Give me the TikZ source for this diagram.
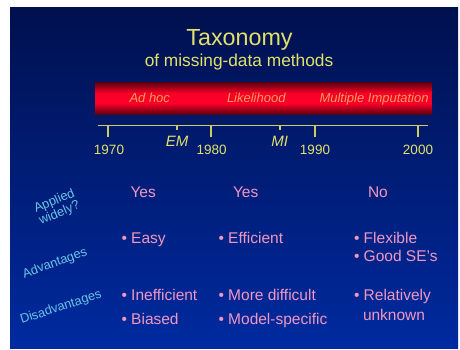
\documentclass[tikz,border=0pt]{standalone}
\usepackage{fontspec}
\setmainfont{Liberation Sans}
\definecolor{bgtop}{RGB}{0,16,78}
\definecolor{bgbot}{RGB}{0,42,160}
\definecolor{titley}{RGB}{225,225,105}
\definecolor{liney}{RGB}{205,205,95}
\definecolor{pinktxt}{RGB}{240,152,192}
\definecolor{cyantxt}{RGB}{105,195,230}
\definecolor{bartxt}{RGB}{245,160,90}
\definecolor{bardark}{RGB}{95,0,15}
\definecolor{barred}{RGB}{250,0,40}
\begin{document}
\begin{tikzpicture}[x=1pt,y=-1pt,
  every node/.style={inner sep=0pt,outer sep=0pt},
  ttl/.style={text=titley,anchor=base},
  bartext/.style={text=bartxt,anchor=base west,font=\fontsize{13}{15}\selectfont\itshape},
  tickline/.style={draw=liney,line width=1.2pt},
  year/.style={text=titley,anchor=base,font=\fontsize{13.5}{15}\selectfont},
  event/.style={text=titley,anchor=base,font=\fontsize{15}{17}\selectfont\itshape},
  item/.style={text=pinktxt,anchor=base west,font=\fontsize{15.5}{18}\selectfont},
  rowlab/.style={text=cyantxt,align=center,font=\fontsize{12.8}{15}\selectfont}]
\useasboundingbox (0,0) rectangle (460,349);
\fill[white] (0,0) rectangle (460,349);
\shade[top color=bgtop,bottom color=bgbot] (10,7) rectangle (458,348);
% title
\node[ttl,font=\fontsize{23.3}{26}\selectfont] (title) at (239.5,45) {Taxonomy};
\node[ttl,font=\fontsize{17.3}{20}\selectfont] (subtitle) at (239,66) {of missing-data methods};
% red bar
\shade[top color=bardark,bottom color=barred] (95,82.5) rectangle (432,93.2);
\fill[barred] (95,93) rectangle (432,103.5);
\shade[top color=barred,bottom color=bardark] (95,103.3) rectangle (432,114);
\node[bartext] (adhoc) at (129.5,102.3) {Ad hoc};
\node[bartext] (lik) at (227,102.3) {Likelihood};
\node[bartext] (mi) at (319.5,102.3) {Multiple Imputation};
% timeline
\coordinate (tl) at (98,125.7);
\coordinate (tr) at (428,125.7);
\draw[tickline] (tl) -- (tr);
\coordinate (t70) at (108,125.7);
\coordinate (t80) at (211,125.7);
\coordinate (t90) at (315,125.7);
\coordinate (t00) at (418,125.7);
\coordinate (tem) at (177,125.7);
\coordinate (tmi) at (280,125.7);
\foreach \c in {t70,t80,t90,t00}{\draw[tickline] (\c) -- ++(0,11.3);}
\foreach \c in {tem,tmi}{\draw[tickline] (\c) -- ++(0,3.8);}
\node[year] (y70) at (109,154) {1970};
\node[year] (y80) at (211.7,154) {1980};
\node[year] (y90) at (315,154) {1990};
\node[year] (y00) at (418,154) {2000};
\node[event] (em) at (177,146.7) {EM};
\node[event] (mievt) at (279.7,146.7) {MI};
% row labels
\node[rowlab,rotate=23] (applied) at (57,207.5) {Applied\\[-2pt]widely?};
\node[rowlab,rotate=20] (adv) at (55,263.5) {Advantages};
\node[rowlab,rotate=18] (disadv) at (61,307.5) {Disadvantages};
% row 1
\node[item] (yes1) at (130.5,197) {Yes};
\node[item] (yes2) at (233,197) {Yes};
\node[item] (no3) at (368,197) {No};
% row 2
\node[item] (easy) at (121.5,243.3) {• Easy};
\node[item] (eff) at (218.5,243.3) {• Efficient};
\node[item] (flex) at (354,243.3) {• Flexible};
\node[item] (good) at (354,261.7) {• Good SE’s};
% row 3
\node[item] (ineff) at (121.5,300.7) {• Inefficient};
\node[item] (biased) at (121.5,324) {• Biased};
\node[item] (moredif) at (218.5,300.7) {• More difficult};
\node[item] (modsp) at (218.5,324) {• Model-specific};
\node[item] (rel) at (354,300.7) {• Relatively};
\node[item] (unk) at (363,320) {unknown};
\end{tikzpicture}
\end{document}
